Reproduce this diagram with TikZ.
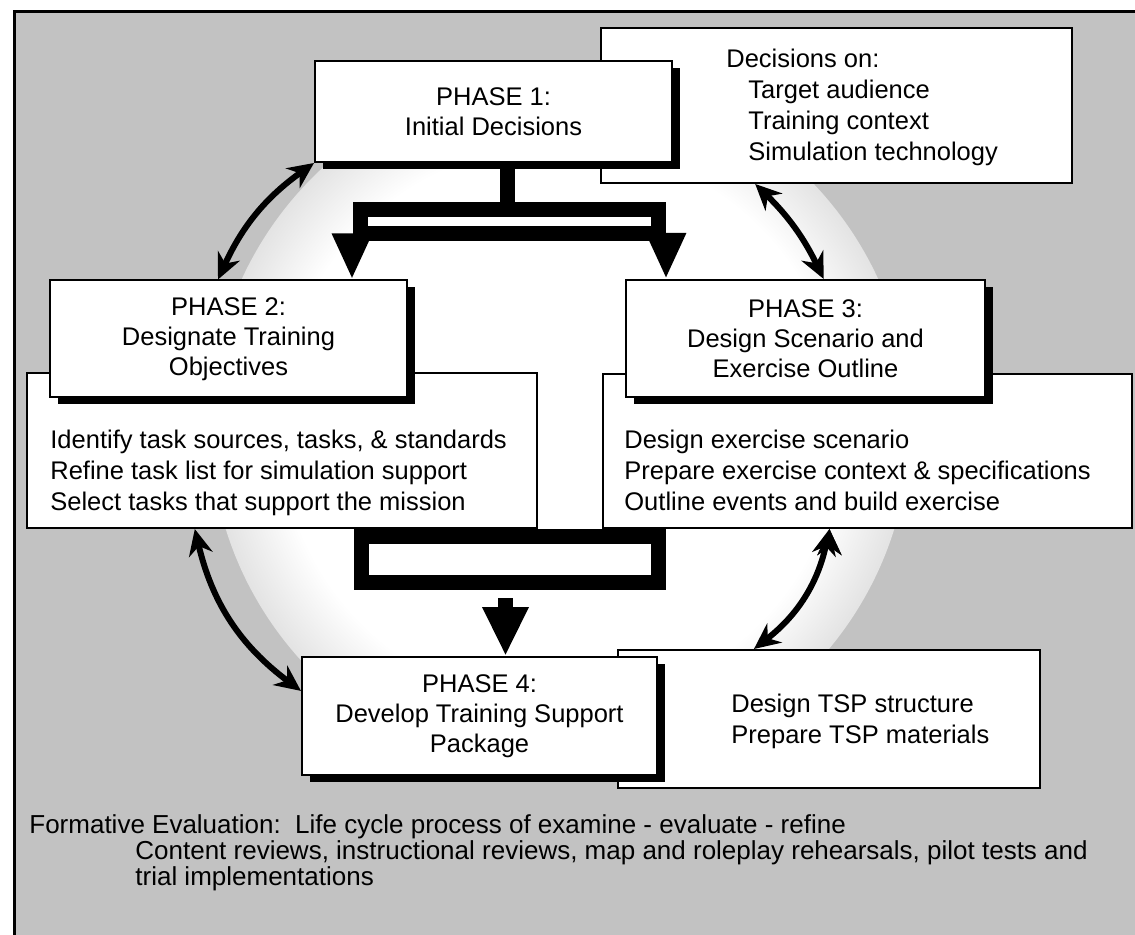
\documentclass[tikz,border=0pt]{standalone}
\usepackage{fontspec}
\setmainfont{Liberation Sans}
\usetikzlibrary{arrows.meta,shadows}

\definecolor{stipple}{gray}{0.76}
\pgfdeclareradialshading{glow}{\pgfpoint{0bp}{0bp}}{color(0bp)=(white); color(20bp)=(white); color(31bp)=(stipple); color(50bp)=(stipple)}

\tikzset{
	phase/.style={draw, line width=1pt, fill=white, align=center, inner sep=0pt,
		minimum width=178.5pt, minimum height=58.5pt,
		font=\fontsize{12.75}{15}\selectfont,
		drop shadow={shadow xshift=4pt, shadow yshift=-3.5pt, fill=black, opacity=1}},
	detail/.style={draw, line width=1pt, fill=white, inner sep=0pt},
	list/.style={align=left, anchor=base west, inner sep=0pt, font=\fontsize{12.75}{15.5}\selectfont},
	fat/.style={line width=7.5pt},
	fork/.style={fat, -{Triangle[width=18.5pt,length=23pt]}},
	both/.style={line width=3pt, {Stealth[length=13pt,width=12pt]}-{Stealth[length=13pt,width=12pt]}}
}

\begin{document}
\begin{tikzpicture}[x=0.5pt,y=-0.5pt]
		\useasboundingbox (0,0) rectangle (1135,935);
		\fill[stipple] (14,12) rectangle (1135,935);
		\begin{scope}
			\clip (14,12) rectangle (1135,935);
			\shade[shading=glow] (560,425) ellipse [x radius=350, y radius=350];
		\end{scope}
		\draw[line width=1.5pt] (14,935) -- (14,12) -- (1135,12);
		\fill[white] (353,202) rectangle (666,590);

		\draw (836.5,105.5) node [detail, minimum width=235.5pt, minimum height=77.5pt] (dec) {};
		\draw (282,450.5) node [detail, minimum width=255pt, minimum height=77.5pt] (p2x) {};
		\draw (867.5,451) node [detail, minimum width=264.5pt, minimum height=77pt] (p3x) {};
		\draw (829,719) node [detail, minimum width=211pt, minimum height=69pt] (tsp) {};

		\draw (726,161) node [list] (declist) {Decisions on:\\\hspace*{11pt}Target audience\\\hspace*{11pt}Training context\\\hspace*{11pt}Simulation technology};
		\draw (50,510) node [list] (p2list) {Identify task sources, tasks, \& standards\\Refine task list for simulation support\\Select tasks that support the mission};
		\draw (624,510) node [list] (p3list) {Design exercise scenario\\Prepare exercise context \& specifications\\Outline events and build exercise};
		\draw (731,743) node [list] (tsplist) {Design TSP structure\\Prepare TSP materials};

		\draw (493.5,111.5) node [phase, minimum height=50.5pt] (p1) {PHASE 1:\\Initial Decisions};
		\draw (228.5,339) node [phase] (p2) {PHASE 2:\\Designate Training\\Objectives};
		\draw (805.5,338.5) node [phase, minimum width=179.5pt] (p3) {PHASE 3:\\Design Scenario and\\Exercise Outline};
		\draw (479.5,716) node [phase, minimum width=177.5pt, minimum height=59pt] (p4) {PHASE 4:\\Develop Training Support\\Package};

		\coordinate (stem) at (507.5,210);
		\coordinate (fl) at (352,234);
		\coordinate (fr) at (666,234);
		\coordinate (merge) at (505.5,598);
		\draw[fat] (stem |- p1.south) -- (stem);
		\draw[fat] (360.5,209.5) rectangle (658,234);
		\draw[fork] (fl) -- (fl |- p2.north);
		\draw[fork] (fr) -- (fr |- p3.north);
		\draw[fat] (361,536.5) rectangle (658.5,582.5);
		\draw[fat, -{Triangle[width=21.5pt,length=24.5pt]}] (merge) -- (merge |- p4.north);

		\draw[both]
			(p1.south west) edge [bend right=15] (p2.100)
			(dec.224) edge [bend left=10] (p3.73)
			(p2x.222) edge [bend right=20] (p4.172)
			(p3x.244) edge [bend left=20] (tsp.137)
		;

		\draw (29,885) node [list, font=\fontsize{13}{13}\selectfont] (eval) {Formative Evaluation:\ \ Life cycle process of examine - evaluate - refine\\\hspace*{53pt}Content reviews, instructional reviews, map and roleplay rehearsals, pilot tests and\\\hspace*{53pt}trial implementations};
	\end{tikzpicture}
\end{document}
